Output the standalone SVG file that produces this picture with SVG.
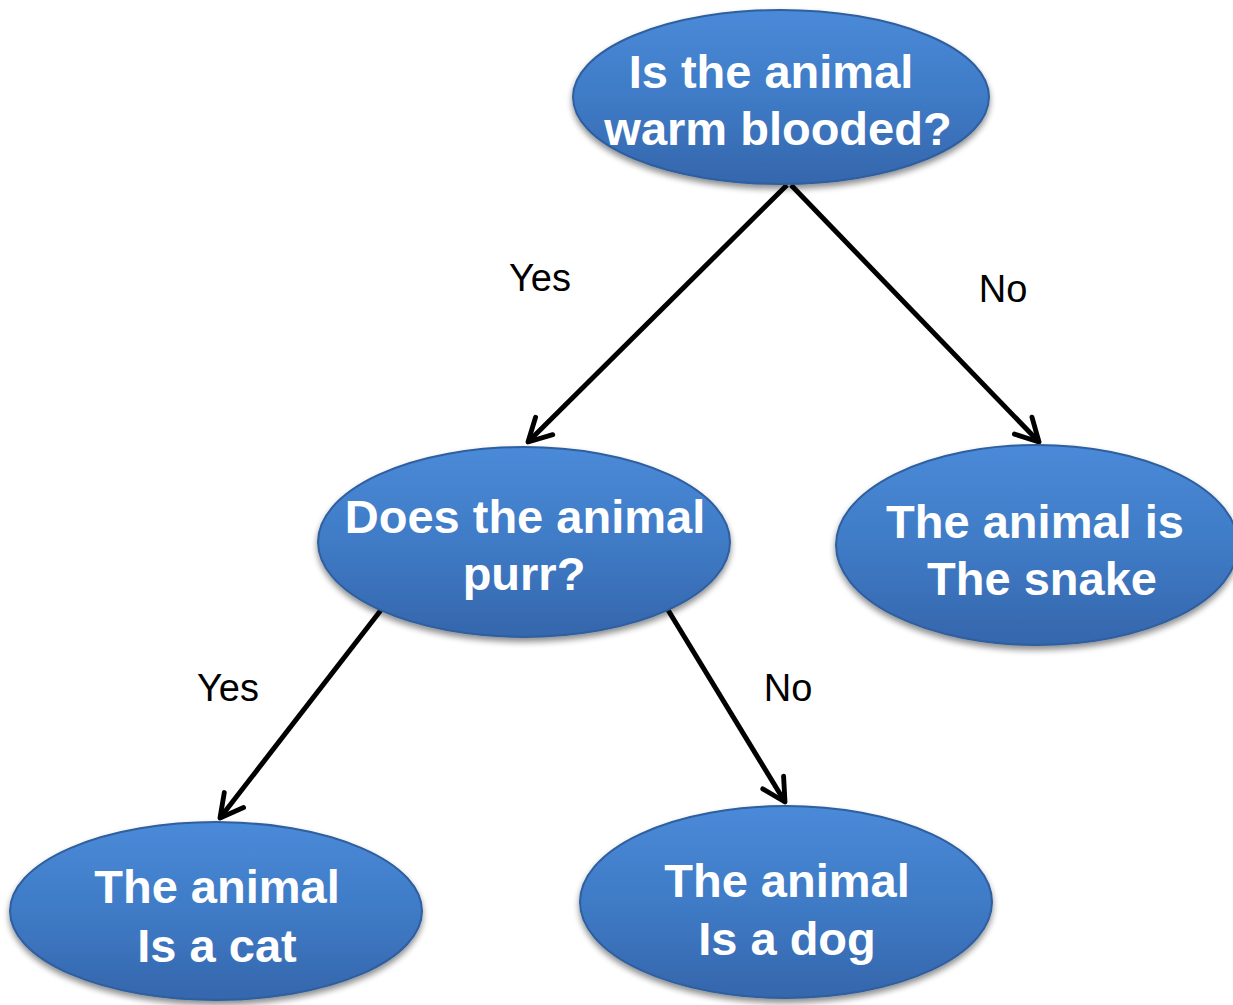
<svg xmlns="http://www.w3.org/2000/svg" width="1233" height="1005" viewBox="0 0 1233 1005">
<defs>
<linearGradient id="g" x1="0" y1="0" x2="0" y2="1">
<stop offset="0" stop-color="#4a8ad8"/>
<stop offset="0.5" stop-color="#3f7bc6"/>
<stop offset="1" stop-color="#3566ac"/>
</linearGradient>
<filter id="sh" x="-10%" y="-10%" width="120%" height="130%">
<feGaussianBlur in="SourceAlpha" stdDeviation="3"/>
<feOffset dx="0" dy="4" result="b"/>
<feComponentTransfer><feFuncA type="linear" slope="0.45"/></feComponentTransfer>
<feMerge><feMergeNode/><feMergeNode in="SourceGraphic"/></feMerge>
</filter>
<marker id="ah" viewBox="0 0 20 20" refX="17" refY="10" markerWidth="6.5" markerHeight="6.5" markerUnits="strokeWidth" orient="auto">
<path d="M3,2.5 L17,10 L3,17.5" fill="none" stroke="#000" stroke-width="3" stroke-linecap="round" stroke-linejoin="round"/>
</marker>
</defs>
<style>
.n{fill:url(#g);stroke:#2f5e9e;stroke-width:2;filter:url(#sh)}
.t{font-family:"Liberation Sans",Arial,sans-serif;font-weight:bold;font-size:47px;fill:#fff;text-anchor:middle}
.l{font-family:"Liberation Sans",Arial,sans-serif;font-size:38px;fill:#000;text-anchor:middle}
.e{stroke:#000;stroke-width:5;fill:none;marker-end:url(#ah)}
</style>
<g id="connectors">
<line class="e" x1="787" y1="185" x2="528" y2="442"/>
<line class="e" x1="791" y1="185" x2="1039" y2="442"/>
<line class="e" x1="381" y1="610" x2="220" y2="818"/>
<line class="e" x1="668" y1="610" x2="785" y2="802"/>
<text class="l" x="540" y="291">Yes</text>
<text class="l" x="1003" y="302">No</text>
<text class="l" x="228" y="701">Yes</text>
<text class="l" x="788" y="701">No</text>
</g>
<g id="n-warm">
<ellipse class="n" cx="781" cy="97" rx="208" ry="87"/>
<text class="t" x="771" y="88">Is the animal</text>
<text class="t" x="778" y="145">warm blooded?</text>
</g>
<g id="n-purr">
<ellipse class="n" cx="524" cy="542" rx="206" ry="95"/>
<text class="t" x="525" y="533">Does the animal</text>
<text class="t" x="524" y="590">purr?</text>
</g>
<g id="n-snake">
<ellipse class="n" cx="1037" cy="545" rx="201" ry="100"/>
<text class="t" x="1035" y="538">The animal is</text>
<text class="t" x="1042" y="595">The snake</text>
</g>
<g id="n-cat">
<ellipse class="n" cx="216" cy="911" rx="206" ry="89"/>
<text class="t" x="217" y="903">The animal</text>
<text class="t" x="217" y="962">Is a cat</text>
</g>
<g id="n-dog">
<ellipse class="n" cx="786" cy="902" rx="206" ry="96"/>
<text class="t" x="787" y="897">The animal</text>
<text class="t" x="787" y="955">Is a dog</text>
</g>
</svg>
